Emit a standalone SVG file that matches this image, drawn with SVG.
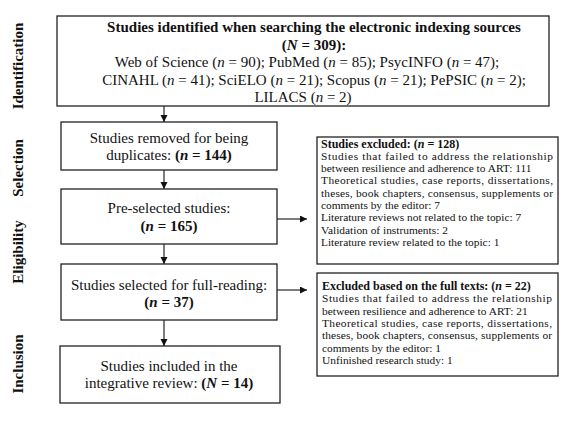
<svg xmlns="http://www.w3.org/2000/svg" width="567" height="423" viewBox="0 0 567 423">
<style>
text{font-family:"Liberation Serif","Times New Roman",serif;fill:#111}
.box{fill:#fff;stroke:#222;stroke-width:1.3}
.c{font-size:15px;text-anchor:middle}
.b{font-weight:bold}
.i{font-style:italic}
.s{font-size:11.4px}
.t{font-size:12px;font-weight:bold}
.lab{font-size:15px;font-weight:bold;text-anchor:middle}
.con{stroke:#111;stroke-width:1.1;fill:none;marker-end:url(#ah)}
</style>
<defs>
<marker id="ah" markerUnits="userSpaceOnUse" markerWidth="8" markerHeight="8" refX="7" refY="3.5" orient="auto">
<path d="M0,0 L7,3.5 L0,7 z" fill="#111"/>
</marker>
</defs>
<rect width="567" height="423" fill="#fff"/>

<g id="labels">
<text class="lab" transform="translate(23,66) rotate(-90)">Identification</text>
<text class="lab" transform="translate(23,168) rotate(-90)">Selection</text>
<text class="lab" transform="translate(23,252) rotate(-90)">Eligibility</text>
<text class="lab" transform="translate(23,364) rotate(-90)">Inclusion</text>
</g>

<g id="connectors">
<line class="con" x1="164" y1="106" x2="164" y2="122"/>
<line class="con" x1="164" y1="170" x2="164" y2="189"/>
<line class="con" x1="164" y1="244" x2="164" y2="264"/>
<line class="con" x1="164" y1="320" x2="164" y2="346"/>
<line class="con" x1="277" y1="219" x2="307" y2="219"/>
<line class="con" x1="277" y1="290" x2="307" y2="290"/>
</g>

<g id="identified">
<rect class="box" x="57" y="16" width="492" height="90"/>
<text class="c b" x="314" y="32">Studies identified when searching the electronic indexing sources</text>
<text class="c b" x="314" y="49.5">(<tspan class="i">N</tspan> = 309):</text>
<text class="c" x="307" y="67">Web of Science (<tspan class="i">n</tspan> = 90); PubMed (<tspan class="i">n</tspan> = 85); PsycINFO (<tspan class="i">n</tspan> = 47);</text>
<text class="c" x="314" y="84.5">CINAHL (<tspan class="i">n</tspan> = 41); SciELO (<tspan class="i">n</tspan> = 21); Scopus (<tspan class="i">n</tspan> = 21); PePSIC (<tspan class="i">n</tspan> = 2);</text>
<text class="c" x="303" y="101.5">LILACS (<tspan class="i">n</tspan> = 2)</text>
</g>

<g id="duplicates">
<rect class="box" x="61" y="122" width="216" height="48"/>
<text class="c" x="169" y="143">Studies removed for being</text>
<text class="c" x="169" y="160">duplicates: <tspan class="b">(<tspan class="i">n</tspan> = 144)</tspan></text>
</g>

<g id="preselected">
<rect class="box" x="61" y="189" width="216" height="55"/>
<text class="c" x="169" y="213">Pre-selected studies:</text>
<text class="c b" x="169" y="230.5">(<tspan class="i">n</tspan> = 165)</text>
</g>

<g id="fullreading">
<rect class="box" x="61" y="264" width="216" height="56"/>
<text class="c" x="169" y="290">Studies selected for full-reading:</text>
<text class="c b" x="169" y="306.5">(<tspan class="i">n</tspan> = 37)</text>
</g>

<g id="included">
<rect class="box" x="60" y="346" width="220" height="57"/>
<text class="c" x="169" y="370.5">Studies included in the</text>
<text class="c" x="169" y="387.5">integrative review: <tspan class="b">(<tspan class="i">N</tspan> = 14)</tspan></text>
</g>

<g id="excluded1">
<rect class="box" x="317" y="137" width="241" height="127"/>
<text class="t" x="321" y="147.5">Studies excluded: (<tspan class="i">n</tspan> = 128)</text>
<text class="s" x="321" y="159.8" textLength="232" lengthAdjust="spacing">Studies that failed to address the relationship</text>
<text class="s" x="321" y="172.1">between resilience and adherence to ART: 111</text>
<text class="s" x="321" y="184.4" textLength="232" lengthAdjust="spacing">Theoretical studies, case reports, dissertations,</text>
<text class="s" x="321" y="196.7" textLength="232" lengthAdjust="spacing">theses, book chapters, consensus, supplements or</text>
<text class="s" x="321" y="209">comments by the editor: 7</text>
<text class="s" x="321" y="221.3">Literature reviews not related to the topic: 7</text>
<text class="s" x="321" y="233.6">Validation of instruments: 2</text>
<text class="s" x="321" y="245.9">Literature review related to the topic: 1</text>
</g>

<g id="excluded2">
<rect class="box" x="317" y="273" width="241" height="103"/>
<text class="t" x="322" y="290">Excluded based on the full texts: (<tspan class="i">n</tspan> = 22)</text>
<text class="s" x="322" y="302.3" textLength="230" lengthAdjust="spacing">Studies that failed to address the relationship</text>
<text class="s" x="322" y="314.6">between resilience and adherence to ART: 21</text>
<text class="s" x="322" y="326.9" textLength="230" lengthAdjust="spacing">Theoretical studies, case reports, dissertations,</text>
<text class="s" x="322" y="339.2" textLength="230" lengthAdjust="spacing">theses, book chapters, consensus, supplements or</text>
<text class="s" x="322" y="351.5">comments by the editor: 1</text>
<text class="s" x="322" y="363.8">Unfinished research study: 1</text>
</g>
</svg>
